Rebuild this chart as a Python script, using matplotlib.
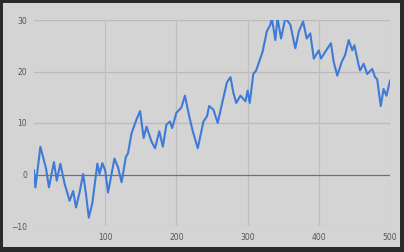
import matplotlib.pyplot as plt
from matplotlib.patches import Rectangle

# values (random-walk style series)
steps = [0, 2, 9, 17, 21, 28, 32, 37, 43, 50, 55, 59, 64, 69, 73, 77, 82, 89, 92, 96,
         100, 104, 113, 118, 123, 129, 132, 137, 144, 149, 154, 158, 165, 170, 176, 181,
         186, 191, 194, 200, 207, 212, 218, 223, 230, 238, 243, 246, 252, 258, 264, 271,
         276, 280, 284, 290, 297, 300, 303, 308, 312, 317, 321, 327, 332, 334, 339, 342,
         347, 353, 360, 367, 372, 378, 383, 388, 393, 400, 403, 409, 417, 421, 426, 432,
         437, 442, 447, 450, 456, 458, 463, 468, 475, 479, 482, 487, 491, 495, 500]
values = [0.8, -2.5, 5.4, 1.1, -2.5, 2.4, -1.2, 2.1, -1.8, -5.1, -3.2, -6.4, -3.5, 0.1,
          -3.8, -8.4, -5.5, 2.1, 0.1, 2.2, 0.8, -3.5, 3.1, 1.4, -1.5, 3.4, 4.1, 8.0, 10.7,
          12.3, 7.1, 9.3, 6.4, 5.1, 8.4, 5.4, 9.7, 10.3, 9.0, 12.0, 13.0, 15.3, 11.3, 8.4,
          5.1, 10.3, 11.3, 13.3, 12.6, 10.0, 13.7, 17.9, 18.9, 15.9, 13.9, 15.3, 14.2, 16.3,
          13.9, 19.5, 20.2, 22.2, 23.8, 27.8, 29.1, 30.4, 26.1, 30.4, 26.4, 30.4, 29.1, 24.5,
          27.8, 29.7, 26.4, 27.4, 22.5, 24.1, 22.5, 23.8, 25.5, 21.8, 19.2, 21.8, 23.2, 26.1,
          24.1, 25.1, 21.2, 20.2, 21.5, 19.5, 20.5, 18.9, 18.5, 13.3, 16.6, 15.3, 18.2]
x_ticks = [100, 200, 300, 400, 500]
y_ticks = [-10, 0, 10, 20, 30]

fig = plt.figure(figsize=(4.04, 2.52), dpi=100)
fig.patch.set_facecolor("#2a2a2a")
# light panel inside the dark frame
fig.patches.append(Rectangle((3 / 404, 5 / 252), 397 / 404, 244 / 252,
                             transform=fig.transFigure, facecolor="#d4d4d4",
                             edgecolor="none", zorder=-5))

ax = fig.add_axes([34 / 404, 26 / 252, 356 / 404, 206 / 252])
ax.set_facecolor("none")
ax.plot(steps, values, color="#3f7ad8", linewidth=1.5, zorder=3)

for y in [10, 20, 30]:
    ax.axhline(y, color="#bababa", linewidth=0.9, zorder=1)
ax.axhline(-10, color="#b8b8b8", linewidth=0.9, zorder=1)
ax.axhline(0, color="#707070", linewidth=0.9, zorder=2)
for x in x_ticks:
    ax.axvline(x, color="#bfbfbf", linewidth=0.9, zorder=1)

ax.set_xlim(0, 500)
ax.set_ylim(-10, 30)
ax.set_xticks(x_ticks)
ax.set_yticks(y_ticks)
ax.tick_params(length=0, labelsize=5.5, labelcolor="#555555", pad=5)
for s in ax.spines.values():
    s.set_visible(False)

fig.savefig("out.png", dpi=100, facecolor=fig.get_facecolor())
